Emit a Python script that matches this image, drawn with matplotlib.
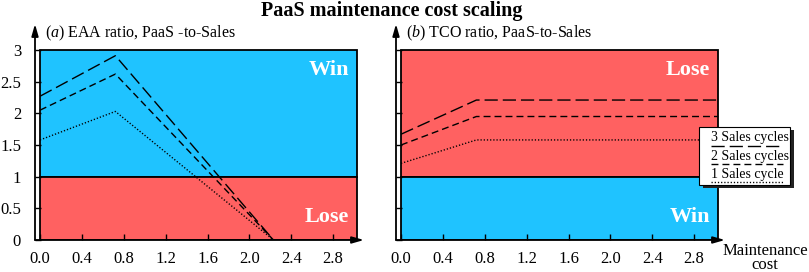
import matplotlib
matplotlib.use('Agg')
import matplotlib.pyplot as plt
from matplotlib.patches import Rectangle
from matplotlib.lines import Line2D

plt.rcParams['font.family'] = ['Liberation Serif', 'DejaVu Serif']
plt.rcParams['mathtext.fontset'] = 'custom'
plt.rcParams['mathtext.rm'] = 'Liberation Serif'
plt.rcParams['mathtext.it'] = 'Liberation Serif:italic'
plt.rcParams['lines.scale_dashes'] = False

# ---------------- data ----------------
x_a = [0.0, 0.72, 2.23]
eaa_3 = [2.27, 2.91, 0.0]
eaa_2 = [2.05, 2.62, 0.0]
eaa_1 = [1.58, 2.03, 0.0]

x_b = [0.0, 0.72, 3.03]
tco_3 = [1.67, 2.21, 2.21]
tco_2 = [1.50, 1.95, 1.95]
tco_1 = [1.21, 1.58, 1.58]

series_names = ['3 Sales cycles', '2 Sales cycles', '1 Sales cycle']
x_ticks = [0.0, 0.4, 0.8, 1.2, 1.6, 2.0, 2.4, 2.8]
x_tick_labels = ['0.0', '0.4', '0.8', '1.2', '1.6', '2.0', '2.4', '2.8']
y_ticks = [0, 0.5, 1, 1.5, 2, 2.5, 3]
y_tick_labels = ['0', '0.5', '1', '1.5', '2', '2.5', '3']
threshold = 1.0
x_max_box = 3.03
y_max_box = 3.0

# ---------------- style ----------------
BLUE = '#1FC3FF'
RED = '#FF6161'
W, H = 809, 272
dash_styles = [(0, (9.5, 3.6)), (0, (5.0, 2.9)), (0, (0.9, 1.4))]
LW = 1.0

fig = plt.figure(figsize=(W / 100, H / 100), dpi=100)


def add_ax(left_px):
    # spine at left_px, x=0 at left_px+5, 104.7 px/unit; y 0 at 240 px, 63.33 px/unit
    right_px = left_px + 329
    top_px, bot_px = 24, 240
    ax = fig.add_axes([left_px / W, 1 - bot_px / H, (right_px - left_px) / W, (bot_px - top_px) / H])
    ax.set_xlim(-5 / 104.7, (right_px - left_px - 5) / 104.7)
    ax.set_ylim(0, (bot_px - top_px) / 63.33)
    for s in ax.spines.values():
        s.set_visible(False)
    ax.annotate('', xy=(0, 1), xytext=(0, 0), xycoords='axes fraction',
                arrowprops=dict(arrowstyle='-|>,head_length=0.7,head_width=0.2', lw=1.3, color='k',
                                shrinkA=0, shrinkB=0))
    ax.annotate('', xy=(1, 0), xytext=(0, 0), xycoords='axes fraction',
                arrowprops=dict(arrowstyle='-|>,head_length=0.7,head_width=0.2', lw=1.3, color='k',
                                shrinkA=0, shrinkB=0))
    ax.set_xticks(x_ticks)
    ax.set_xticklabels(x_tick_labels, fontsize=12)
    ax.set_yticks(y_ticks)
    ax.tick_params(axis='x', direction='in', length=4, width=1, pad=8)
    ax.tick_params(axis='y', direction='in', length=4, width=1, pad=10)
    return ax


def draw_panel(ax, x, ys, upper_col, lower_col, upper_lbl, lower_lbl, title):
    ax.add_patch(Rectangle((0, threshold), x_max_box, y_max_box - threshold, facecolor=upper_col,
                           edgecolor='k', lw=1.3, zorder=1))
    ax.add_patch(Rectangle((0, 0), x_max_box, threshold, facecolor=lower_col,
                           edgecolor='k', lw=1.3, zorder=1))
    for yv, ls in zip(ys, dash_styles):
        ax.plot(x, yv, color='k', lw=LW, linestyle=ls, zorder=3)
    ax.text(2.95, 2.68, upper_lbl, ha='right', va='center', color='white', fontsize=16,
            fontweight='bold', zorder=4)
    ax.text(2.95, 0.36, lower_lbl, ha='right', va='center', color='white', fontsize=16,
            fontweight='bold', zorder=4)
    ax.text(0.05, 3.27, title, ha='left', va='center', fontsize=11.5)


ax_a = add_ax(35)
ax_a.set_yticklabels(y_tick_labels, fontsize=12)
draw_panel(ax_a, x_a, [eaa_3, eaa_2, eaa_1], BLUE, RED, 'Win', 'Lose',
           r'($\mathit{a}$) EAA ratio, PaaS -to-Sales')

ax_b = add_ax(396)
ax_b.set_yticklabels([])
draw_panel(ax_b, x_b, [tco_3, tco_2, tco_1], RED, BLUE, 'Lose', 'Win',
           r'($\mathit{b}$) TCO ratio, PaaS-to-Sales')

fig.text(392 / W, 1 - 11 / H, 'PaaS maintenance cost scaling', ha='center', va='center',
         fontsize=14.5, fontweight='bold')
fig.text(765 / W, 1 - 258 / H, 'Maintenance\ncost', ha='center', va='center', fontsize=12,
         linespacing=0.9)

# legend box (manual, with shadow and underlined samples)
lx0, lx1, ly0, ly1 = 699, 790, 127, 185
fig.add_artist(Rectangle(((lx0 + 4) / W, 1 - (ly1 + 3) / H), (lx1 - lx0) / W, (ly1 - ly0) / H,
                         transform=fig.transFigure, facecolor='#222222', edgecolor='none', zorder=5))
fig.add_artist(Rectangle((lx0 / W, 1 - ly1 / H), (lx1 - lx0) / W, (ly1 - ly0) / H,
                         transform=fig.transFigure, facecolor='white', edgecolor='k', lw=0.8, zorder=6))
text_y = [138, 156.5, 174.5]
line_y = [145.5, 163.5, 181.5]
for name, ls, ty, ly in zip(series_names, dash_styles, text_y, line_y):
    fig.text(711 / W, 1 - ty / H, name, ha='left', va='center', fontsize=10, zorder=7)
    fig.add_artist(Line2D([711 / W, 783 / W], [1 - ly / H, 1 - ly / H], transform=fig.transFigure,
                          color='k', lw=LW, linestyle=ls, zorder=7))

fig.savefig('out.png', dpi=100)
